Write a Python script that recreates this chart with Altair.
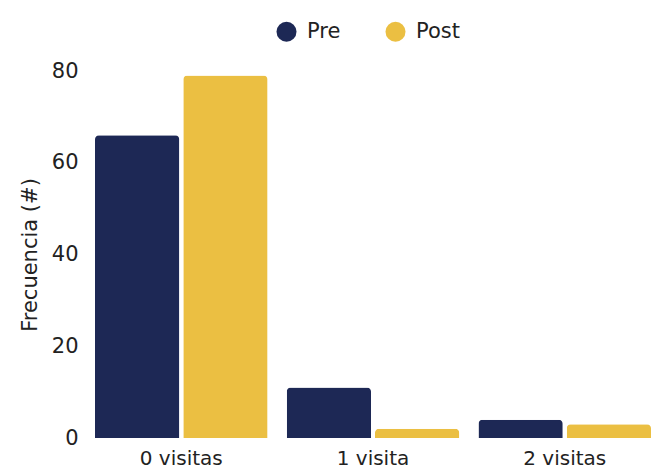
import altair as alt
import pandas as pd

categorias = ["0 visitas", "1 visita", "2 visitas"]
pre = [66, 11, 4]
post = [79, 2, 3]
series = ["Pre", "Post"]
colores = ["#1D2855", "#EBBF42"]

rows = []
for c, a, b in zip(categorias, pre, post):
    rows.append({"cat": c, "serie": "Pre", "valor": a})
    rows.append({"cat": c, "serie": "Post", "valor": b})
df = pd.DataFrame(rows)

FONT = "DejaVu Sans"

chart = alt.Chart(df).mark_bar(cornerRadiusTopLeft=4, cornerRadiusTopRight=4).encode(
    x=alt.X("cat:N", sort=categorias, title=None,
            scale=alt.Scale(paddingInner=0.1, paddingOuter=0),
            axis=alt.Axis(labelAngle=0, labelFontSize=20, labelColor="#222", domain=False, ticks=False, labelPadding=10)),
    xOffset=alt.XOffset("serie:N", sort=series, scale=alt.Scale(paddingInner=0.045)),
    y=alt.Y("valor:Q", title="Frecuencia (#)",
            scale=alt.Scale(domain=[0, 80]),
            axis=alt.Axis(values=[0, 20, 40, 60, 80], grid=False, domain=False, ticks=False,
                          labelFontSize=21, labelColor="#222", labelPadding=17,
                          titleFontSize=21, titleFontWeight="normal", titleColor="#222", titlePadding=11)),
    color=alt.Color("serie:N", sort=series, scale=alt.Scale(domain=series, range=colores),
                    legend=alt.Legend(title=None, orient="none", direction="horizontal",
                                      legendX=181, legendY=-50, symbolType="circle", symbolSize=400,
                                      labelFontSize=21, labelColor="#222", labelOffset=10,
                                      columnPadding=44, symbolStrokeWidth=0)),
).properties(
    width=556, height=367,
    autosize=alt.AutoSizeParams(type="none"),
    padding={"left": 87, "top": 63, "right": 0, "bottom": 36},
).configure(font=FONT).configure_view(strokeWidth=0)

chart.save("out.html", embed_options={"renderer": "svg", "actions": False})
